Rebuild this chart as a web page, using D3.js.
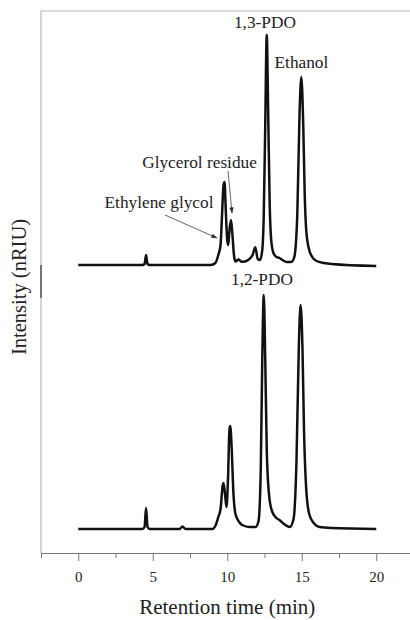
<!DOCTYPE html>
<html>
<head>
<meta charset="utf-8">
<script src="https://cdn.jsdelivr.net/npm/d3@7"></script>
<style>
  body { margin: 0; background: #fff; }
  text { font-family: "Liberation Serif", "Times New Roman", serif; fill: #222; }
</style>
</head>
<body>
<script>
// chromatogram (time in min, intensity in arbitrary units)
const time_top = [0, 4.3, 4.45, 4.55, 4.65, 4.8, 8.9, 9.2, 9.4, 9.55, 9.65, 9.75, 9.82, 9.9, 10.0, 10.07,
  10.15, 10.25, 10.35, 10.45, 10.55, 10.76, 10.95, 11.1, 11.4, 11.7, 11.88, 12.05, 12.2, 12.35, 12.45,
  12.55, 12.65, 12.75, 12.85, 12.95, 13.1, 13.3, 13.5, 13.7, 14.0, 14.3, 14.5, 14.7, 14.85, 14.97,
  15.1, 15.2, 15.3, 15.45, 15.7, 16.0, 16.5, 17.0, 20.0];
const intensity_top = [0, 0, 1, 10, 1, 0, 0, 2, 10, 20, 50, 80, 83, 55, 25, 20,
  35, 45, 30, 10, 3.5, 5.5, 3.5, 3.3, 5, 10, 17.7, 6, 5, 15, 50,
  140, 230, 150, 60, 25, 12, 8, 7, 5, 3, 3, 8, 50, 150, 188,
  140, 70, 35, 18, 8, 4, 2, 1, -1];

const time_bottom = [0, 4.3, 4.45, 4.55, 4.65, 4.8, 6.8, 7.0, 7.2, 9.0, 9.2, 9.4, 9.55, 9.7, 9.75, 9.85,
  9.95, 10.05, 10.15, 10.2, 10.3, 10.4, 10.55, 10.8, 11.0, 11.5, 11.9, 12.1, 12.25, 12.35, 12.45, 12.55,
  12.65, 12.8, 13.0, 13.3, 13.5, 13.8, 14.2, 14.45, 14.65, 14.8, 14.92, 15.05, 15.15, 15.3, 15.5, 15.8,
  16.2, 17.0, 20.0];
const intensity_bottom = [0, 0, 2, 21, 2, 0, 0, 2.5, 0, 0, 3, 12, 20, 44, 46, 35,
  22, 50, 100, 103, 80, 40, 15, 7, 4, 2, 2, 8, 60, 170, 234, 170,
  80, 35, 18, 11, 9, 5, 2, 10, 70, 180, 224, 180, 100, 40, 15, 6,
  2, 1, 0];

const top_offset = 264;
const x_major = [0, 5, 10, 15, 20];
const x_minor = [-2.5, 2.5, 7.5, 12.5, 17.5, 22.5];

// peak labels, anchored in chart units
const label_text = ["1,3-PDO", "Ethanol", "Glycerol residue", "Ethylene glycol", "1,2-PDO"];
const label_time = [12.53, 14.98, 8.14, 5.42, 12.33];
const label_level = [501, 461, 361, 321, 244];

// arrows from label to peak
const arrow_from = [[5.82, 314], [10.05, 358]];
const arrow_to = [[9.31, 291], [10.32, 316]];

const width = 410, height = 620;

const svg = d3.select("body").append("svg")
  .attr("width", width)
  .attr("height", height);

const x = d3.scaleLinear().domain([-2.5, 22.5]).range([41, 413.5]);
const y = d3.scaleLinear().domain([-24, 518]).range([553, 11]);

// frame: light top border and left line
svg.append("line")
  .attr("x1", 41).attr("x2", width)
  .attr("y1", 11).attr("y2", 11)
  .attr("stroke", "#bbb").attr("stroke-width", 1.2);
svg.append("line")
  .attr("x1", 41).attr("x2", 41)
  .attr("y1", 11).attr("y2", 553)
  .attr("stroke", "#aaa").attr("stroke-width", 1);
svg.append("line")
  .attr("x1", 41).attr("x2", 41)
  .attr("y1", y(264)).attr("y2", y(231))
  .attr("stroke", "#333").attr("stroke-width", 1.2);

// x axis with major and minor ticks
const gx = svg.append("g").attr("transform", "translate(0," + y(-24) + ")");
gx.call(d3.axisBottom(x).tickValues(x_major).tickSize(8).tickSizeOuter(0).tickPadding(10))
  .call(g => g.select(".domain").attr("stroke", "#777"))
  .call(g => g.selectAll(".tick line").attr("stroke", "#777"))
  .call(g => g.selectAll(".tick text")
    .attr("font-family", "Liberation Serif")
    .attr("font-size", 15)
    .attr("fill", "#333"));
svg.append("g").attr("transform", "translate(0," + y(-24) + ")")
  .call(d3.axisBottom(x).tickValues(x_minor).tickSize(5).tickFormat(""))
  .call(g => g.select(".domain").remove())
  .call(g => g.selectAll(".tick line").attr("stroke", "#777"));

// traces
const line = d3.line().curve(d3.curveMonotoneX);
const pts_top = time_top.map((t, i) => [x(t), y(intensity_top[i] + top_offset)]);
const pts_bottom = time_bottom.map((t, i) => [x(t), y(intensity_bottom[i])]);

[pts_top, pts_bottom].forEach(p => {
  svg.append("path")
    .attr("d", line(p))
    .attr("fill", "none")
    .attr("stroke", "#111")
    .attr("stroke-width", 2.5)
    .attr("stroke-linejoin", "round");
});

// labels
svg.selectAll("text.peak")
  .data(label_text)
  .enter().append("text")
    .attr("class", "peak")
    .attr("x", (d, i) => x(label_time[i]))
    .attr("y", (d, i) => y(label_level[i]))
    .attr("text-anchor", "middle")
    .attr("font-size", 17.3)
    .text(d => d);

// arrows
svg.append("defs").append("marker")
  .attr("id", "head")
  .attr("viewBox", "0 0 10 10")
  .attr("refX", 9).attr("refY", 5)
  .attr("markerWidth", 7).attr("markerHeight", 7)
  .attr("orient", "auto")
  .append("path")
    .attr("d", "M0,1.5L10,5L0,8.5z")
    .attr("fill", "#333");

arrow_from.forEach((a, i) => {
  svg.append("line")
    .attr("x1", x(a[0])).attr("y1", y(a[1]))
    .attr("x2", x(arrow_to[i][0])).attr("y2", y(arrow_to[i][1]))
    .attr("stroke", "#555")
    .attr("stroke-width", 0.9)
    .attr("marker-end", "url(#head)");
});

// axis titles
svg.append("text")
  .attr("x", x(10))
  .attr("y", 614)
  .attr("text-anchor", "middle")
  .attr("font-size", 21)
  .text("Retention time (min)");

svg.append("text")
  .attr("transform", "translate(26,287) rotate(-90)")
  .attr("text-anchor", "middle")
  .attr("font-size", 20.5)
  .text("Intensity (nRIU)");
</script>
</body>
</html>
